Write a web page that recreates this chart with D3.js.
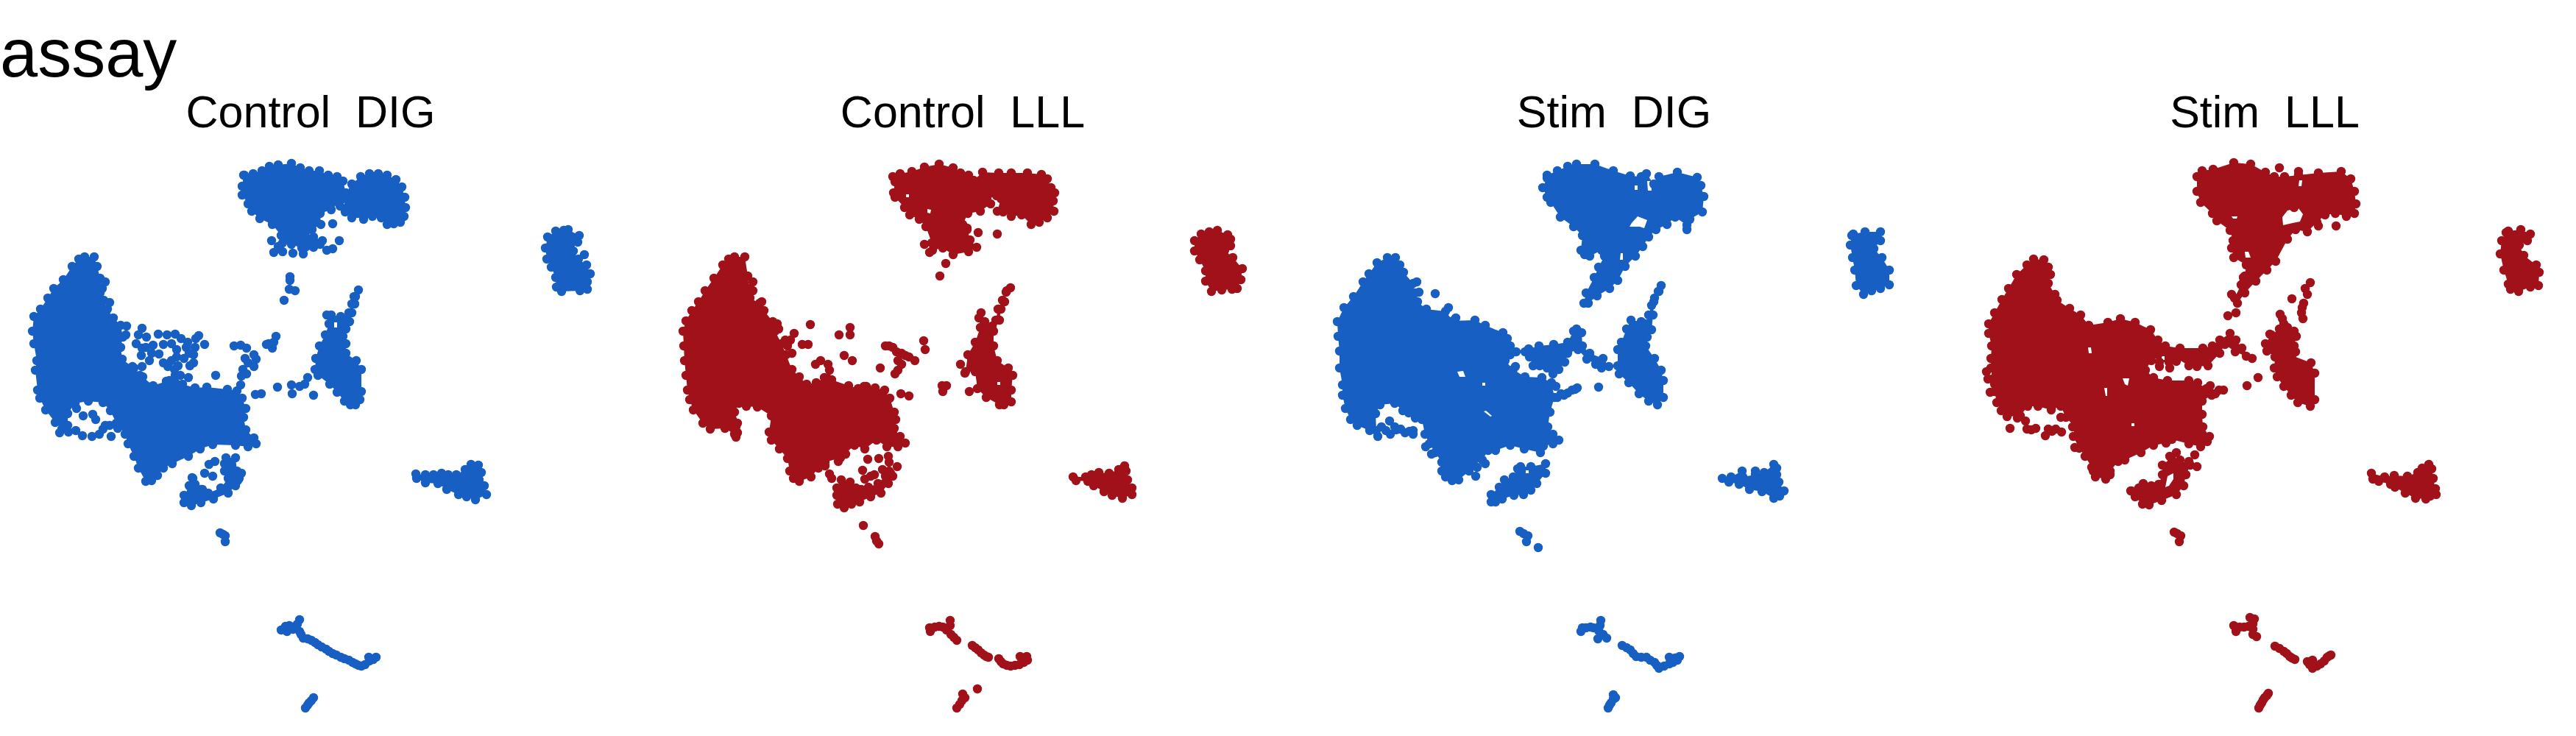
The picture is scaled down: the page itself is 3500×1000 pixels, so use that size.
<!DOCTYPE html>
<html><head><meta charset="utf-8">
<script src="https://cdn.jsdelivr.net/npm/d3@7"></script>
<style>html,body{margin:0;background:#fff}svg{display:block}text{font-family:"Liberation Sans",Arial,sans-serif;white-space:pre}</style>
</head><body><div id="chart"></div>
<script>
// Values, in the embedding coordinate of each facet.
// Cells inside the solid clusters cannot be told apart, so each cluster is a traced region
// (outer ring, then gaps); cells are drawn on its outline and wherever they are separate.
const facetTitles = ["Control  DIG","Control  LLL","Stim  DIG","Stim  LLL"];
const facetColors = ["#175FC2","#A0111A","#175FC2","#A0111A"];
const facetOffsets = [0,880,1760,2620];
const titleCenters = [422,428,433,457];

const controlDigRegions = [
[[332,238,344,236,356,232,366,226,378,224,396,222,408,228,420,232,434,232,446,238,458,240,466,246,470,262,478,250,490,240,502,236,514,236,526,238,538,244,546,254,550,268,551,282,549,294,544,302,535,304,526,305,518,296,506,294,494,298,486,290,478,296,469,288,462,280,474,278,466,270,450,285,435,290,436,305,424,312,415,316,426,322,438,327,426,336,412,345,410,337,396,332,384,330,382,320,370,305,353,297,342,287,337,277,329,265,329,253,331,238]],
[[115,349,128,349,132,362,136,378,139,392,136,398,141,408,146,420,154,432,164,442,167,458,164,472,166,488,182,500,194,512,208,524,226,518,238,510,248,522,265,527,281,526,309,529,322,531,329,541,334,555,331,567,334,584,345,595,348,603,337,607,320,605,289,604,272,610,256,620,234,630,222,636,214,646,206,653,198,654,188,636,182,620,174,603,170,590,158,575,150,558,140,547,120,545,102,548,92,562,92,578,84,583,75,574,62,557,54,541,51,530,48,503,50,490,46,467,44,450,46,430,55,420,65,405,73,392,86,380,98,362,107,352]],
[[487,394,483,403,482,413,478,425,475,437,470,447,466,457,470,467,470,480,484,490,491,502,491,532,489,543,483,550,476,550,468,545,458,533,448,522,432,510,428,502,429,487,434,470,442,455,447,440,444,428,450,428,463,430,474,425,478,413,481,403],[454,438,458,438,458,445,454,445]],
[[772,312,787,320,785,329,775,333,779,341,786,352,797,360,802,372,798,383,798,393,788,395,763,396,756,390,755,377,749,363,743,352,741,337,744,322,755,314,766,313]],
[[565,644,578,645,589,645,600,643,609,645,620,645,632,638,640,631,650,632,654,642,651,652,658,660,661,672,646,679,634,675,623,672,607,665,595,657,578,656,566,650]],
[[307,622,320,622,322,640,325,650,320,660,310,670,290,678,273,683,260,687,250,683,250,673,258,660,262,650,265,658,275,665,283,670,300,663,310,650,305,640,305,630]]
];
const controlDigCells = [452,304,369,327,461,327,452,338,444,340,435,332,398,344,384,342,372,343,378,335,394,376,394,381,393,393,401,395,386,408,149,411,143,383,193,446,188,455,185,467,199,458,215,454,227,455,238,454,246,460,222,468,233,467,240,475,255,465,270,456,266,460,278,468,265,472,253,472,208,469,198,472,193,473,192,483,203,490,206,480,216,481,222,493,228,498,237,502,242,497,233,490,240,485,250,487,257,480,263,482,258,497,263,493,230,517,245,510,256,513,190,510,180,498,193,498,172,443,171,455,293,510,318,470,327,469,335,473,345,482,348,488,333,487,337,493,345,498,330,502,335,508,328,511,362,468,365,467,370,473,375,457,372,465,355,535,347,536,327,523,377,526,396,523,407,525,414,522,418,513,397,535,426,537,113,565,126,563,130,570,143,578,104,555,81,588,93,587,103,585,112,592,125,593,140,583,149,578,151,593,135,590,160,582,292,627,284,631,278,643,289,647,261,649,257,660,263,663,273,665,328,643,323,653,794,346,299,724,303,726,306,728,306,736,407,842,404,848,393,850,382,856,390,858,407,858,388,851,398,855,412,867,409,862,418,868,423,870,428,873,432,876,437,879,443,882,447,885,452,888,457,890,463,893,468,895,474,897,479,900,483,902,487,904,491,905,496,903,502,898,507,896,511,893,501,893,426,948,423,952,420,955,418,958,415,962];

const controlLllRegions = [
[[333,240,343,236,359,233,376,227,396,223,415,228,425,235,436,238,443,245,455,234,477,235,494,235,516,235,535,237,543,243,548,255,553,262,551,273,552,287,543,296,532,302,521,305,508,292,494,294,483,288,475,287,480,270,474,266,468,262,466,277,452,287,435,290,428,305,434,310,438,326,447,336,436,342,415,346,401,337,387,340,386,330,378,308,369,298,356,292,349,282,336,268,334,262,336,247],[380,284,385,285,384,290,380,289],[351,264,355,264,355,268,351,268]],
[[118,349,132,349,136,375,138,392,139,405,152,412,158,422,170,437,173,450,182,467,188,482,196,502,206,512,216,522,229,520,240,513,247,503,250,516,273,524,286,528,297,525,309,527,322,530,329,541,335,560,337,570,335,582,343,593,350,602,340,607,325,607,311,598,295,610,281,605,262,622,241,628,232,636,222,648,206,654,198,650,193,640,190,623,179,610,168,598,165,587,168,565,149,553,134,552,124,548,118,560,122,575,118,590,105,582,85,583,75,575,62,557,57,543,54,530,52,510,50,490,49,470,48,450,52,436,60,422,69,410,78,395,90,378,102,360,110,352]],
[[257,663,263,652,275,655,283,663,290,665,300,662,313,657,323,647,328,640,333,647,327,657,317,670,303,675,288,682,277,685,267,690,258,685,257,673]],
[[493,391,487,397,485,410,480,420,478,435,470,450,470,470,475,490,490,500,496,510,494,530,494,546,484,550,478,550,460,540,448,528,445,505,432,505,435,482,445,465,452,445,450,432,453,425,458,437,468,443,473,435,476,420,482,408,488,395],[475,519,479,519,479,523,475,523]],
[[774,313,788,319,792,325,792,334,784,340,795,350,808,365,806,380,801,392,794,393,780,394,766,396,758,382,758,368,750,353,743,341,743,327,752,318,763,315]],
[[578,648,595,648,603,645,613,642,627,643,640,638,648,633,650,640,652,652,658,663,658,672,645,677,631,673,620,668,606,660,598,654,582,653]]
];
const controlLllCells = [449,316,475,318,434,312,429,308,397,375,405,358,383,343,376,332,143,383,143,395,155,410,176,440,178,447,199,453,194,462,190,470,210,468,218,468,221,441,260,455,275,455,275,445,196,480,235,490,228,495,245,495,267,483,278,490,187,462,323,470,328,470,333,472,338,478,345,480,350,483,355,485,363,490,375,463,377,475,345,495,340,503,336,508,340,490,316,500,344,535,355,538,299,624,314,623,292,639,303,647,308,645,295,651,319,638,330,643,328,628,327,620,339,634,247,644,250,650,241,633,259,627,269,617,112,560,115,570,120,580,122,588,120,594,400,524,406,524,401,532,437,532,431,507,425,495,294,525,293,714,309,729,311,735,314,739,411,843,411,850,401,852,396,851,390,852,384,858,383,853,406,856,412,862,416,866,420,870,441,877,445,880,449,883,453,887,457,890,460,892,463,893,477,895,480,899,483,902,488,904,493,905,499,904,505,903,511,900,516,897,515,892,511,895,506,892,448,936,428,943,431,948,427,952,424,957,420,962];

const stimDigRegions = [
[[342,238,356,232,370,226,382,223,407,223,432,232,455,239,470,240,477,236,487,250,494,240,519,234,546,241,551,252,555,267,553,288,536,298,532,306,516,295,505,305,490,312,480,322,472,335,462,348,448,362,438,381,427,392,410,402,398,412,392,412,395,398,406,377,412,363,420,348,416,340,400,348,393,346,388,340,390,320,378,308,360,295,347,275,342,268,336,255,342,242],[457,303,465,294,478,299,474,310,468,308,454,308],[461,252,465,252,465,258,461,258],[478,246,483,246,484,259,479,259],[442,344,445,344,445,353,441,353]],
[[125,350,136,350,142,360,147,370,160,385,163,398,166,410,178,420,204,423,214,436,244,435,258,442,282,452,288,460,292,470,292,482,285,490,296,502,312,512,335,513,348,520,352,540,346,560,343,580,350,590,358,598,350,603,337,606,333,615,311,610,292,605,272,612,262,612,254,625,242,632,236,640,222,652,213,653,204,648,199,640,199,628,190,615,182,603,176,590,172,570,163,568,154,561,146,558,135,548,115,550,109,562,110,585,101,585,84,578,75,570,68,555,64,537,64,523,60,500,60,477,58,457,57,437,66,418,79,403,92,383,100,372,111,357],[220,505,228,504,231,512,223,512],[254,520,258,520,258,524,254,524],[256,559,259,558,267,565,265,566]],
[[317,474,331,470,351,468,370,465,378,450,382,447,389,452,390,470,400,480,418,487,426,498,416,500,408,495,396,488,384,475,370,480,366,492,358,502,350,508,342,500,332,497,323,497,318,485,312,478]],
[[497,388,494,396,487,410,486,428,484,448,478,458,476,470,488,487,497,503,500,517,500,540,492,550,480,545,467,535,453,520,440,508,438,497,438,475,443,465,450,447,456,435,470,437,476,440,480,428,484,415,488,405,493,396]],
[[758,318,774,315,795,315,795,327,786,338,797,350,807,367,807,387,795,392,783,395,772,400,762,388,760,367,757,350,754,333,756,320]],
[[580,650,592,648,607,640,608,648,625,645,637,642,650,631,654,636,654,645,657,655,664,667,658,674,650,677,634,668,617,665,603,658,589,655]],
[[306,634,320,634,340,630,340,643,328,657,320,666,310,672,297,673,281,678,272,682,266,682,266,672,277,662,284,652,296,648,302,637],[313,639,317,639,317,643,313,643]]
];
const stimDigCells = [532,312,463,275,471,280,449,297,446,313,460,316,447,314,453,316,190,399,165,383,168,397,208,418,218,432,299,498,300,478,412,526,383,527,380,529,376,530,370,534,365,537,356,540,354,525,361,535,128,572,117,580,135,580,149,588,155,586,160,585,160,590,129,590,123,585,112,593,137,584,143,583,245,647,247,635,258,630,177,607,185,617,305,722,310,725,316,728,314,736,330,744,625,640,415,843,414,850,405,853,401,852,395,853,390,853,388,858,412,857,418,862,423,867,411,868,444,877,450,880,455,883,459,888,463,892,470,893,477,893,482,897,488,900,491,904,494,908,501,905,508,902,513,900,519,897,522,892,516,894,508,893,432,944,435,948,432,950,429,955,427,958,425,962];

const stimLllRegions = [
[[365,240,372,232,387,230,415,221,438,223,458,234,470,240,484,240,503,238,530,235,561,233,574,243,579,260,581,277,579,290,568,294,553,290,539,292,528,302,515,315,499,312,488,325,472,355,460,367,445,382,430,398,420,412,416,405,425,387,430,375,432,360,415,350,412,337,414,327,410,313,392,300,386,290,370,275,365,260],[488,286,503,283,509,291,505,301,495,303,482,306,481,295],[430,342,435,342,438,350,431,350],[412,294,420,294,419,297,414,297],[504,245,508,245,507,253,503,253],[463,298,468,298,468,306,465,306]],
[[143,352,157,353,163,363,166,373,163,385,172,400,175,408,192,419,207,428,218,442,244,438,261,433,281,438,302,448,312,462,322,470,342,473,373,473,386,470,396,462,410,453,418,462,426,473,440,487,432,484,417,478,403,468,396,480,380,497,365,498,354,497,338,487,327,492,314,492,312,482,303,490,295,503,306,513,325,517,354,517,366,520,378,528,395,530,385,537,372,545,372,563,373,580,382,593,379,600,370,607,354,603,331,597,323,602,306,605,289,615,267,625,258,627,247,640,247,645,241,651,227,648,224,640,222,635,213,620,205,609,197,593,199,580,187,567,180,552,167,557,149,552,135,552,125,565,107,566,99,558,93,547,90,532,90,522,87,515,85,500,85,487,86,470,82,453,82,440,90,425,100,407,109,392,120,373,134,360],[217,472,221,472,222,480,218,480],[264,514,273,514,271,524,267,522],[239,527,243,527,243,538,241,538],[276,575,280,575,280,579,276,579],[317,484,321,484,321,489,317,489]],
[[318,632,330,622,342,625,356,632,350,645,347,660,337,672,317,680,300,686,291,685,281,675,276,667,292,657,303,660,313,658,318,645],[325,647,333,643,333,651,327,660,322,662]],
[[483,440,488,445,497,450,500,457,497,470,499,478,494,483,520,493,525,507,525,543,519,552,502,547,493,537,483,525,474,512,470,500,471,485,460,477,458,467,466,455,477,447]],
[[788,314,805,312,818,318,814,327,803,333,809,347,826,360,830,370,829,388,818,390,802,396,791,393,788,386,782,367,777,345,779,327,785,316]],
[[602,643,620,648,633,646,651,647,665,642,671,636,680,631,684,637,686,650,689,664,690,672,682,674,676,678,662,677,648,670,634,662,628,658,612,654,604,651]]
];
const stimLllCells = [477,228,503,233,554,307,418,425,407,429,497,282,466,300,474,290,530,307,428,377,428,384,412,400,81,515,84,533,79,505,111,582,134,583,140,584,146,582,159,592,163,583,168,586,173,583,181,587,196,580,199,608,132,572,121,568,180,567,337,491,328,500,314,498,448,513,433,524,401,530,383,524,390,535,337,615,328,620,365,634,362,618,354,627,286,663,275,667,519,384,512,392,515,400,494,406,510,412,507,425,509,433,508,418,478,427,481,433,464,454,334,723,338,725,343,728,341,736,437,839,443,841,441,848,435,851,429,852,423,852,415,850,418,858,441,855,441,862,446,865,471,878,477,881,483,885,487,888,491,892,494,894,498,896,515,899,522,897,518,903,522,908,528,905,533,902,538,898,542,893,545,891,547,890,462,942,460,945,457,948,455,951,453,955,451,958,449,962];

const facetRegions = [controlDigRegions,controlLllRegions,stimDigRegions,stimLllRegions];
const facetCells = [controlDigCells,controlLllCells,stimDigCells,stimLllCells];

const svg = d3.select("#chart").append("svg").attr("width",3500).attr("height",1000);
svg.append("rect").attr("width",3500).attr("height",1000).attr("fill","#fff");
const toPairs = a => d3.range(0,a.length,2).map(i=>[a[i],a[i+1]]);
const y = d3.scaleLinear().domain([0,1000]).range([0,1000]);

svg.append("text").attr("x",0).attr("y",104).attr("font-size",92).text("assay");

facetTitles.forEach((title,i)=>{
  const x = d3.scaleLinear().domain([0,880]).range([facetOffsets[i],facetOffsets[i]+880]);
  const ring = d3.line().x(d=>x(d[0])).y(d=>y(d[1])).curve(d3.curveLinearClosed);
  const g = svg.append("g").attr("fill",facetColors[i]);
  svg.append("text").attr("x",x(titleCenters[i])).attr("y",173).attr("text-anchor","middle").attr("font-size",61).text(title);
  const regions = facetRegions[i];
  g.selectAll("path.core").data(regions).join("path").attr("class","core")
    .attr("d",rings=>ring(toPairs(rings[0])));
  g.selectAll("path.gap").data(regions.flatMap(rings=>rings.slice(1))).join("path").attr("class","gap")
    .attr("fill","#fff").attr("d",r=>ring(toPairs(r)));
  const cells = regions.flatMap(rings=>toPairs(rings[0])).concat(toPairs(facetCells[i]));
  g.selectAll("circle").data(cells).join("circle")
    .attr("cx",d=>x(d[0])).attr("cy",d=>y(d[1])).attr("r",6.2);
});
</script></body></html>
